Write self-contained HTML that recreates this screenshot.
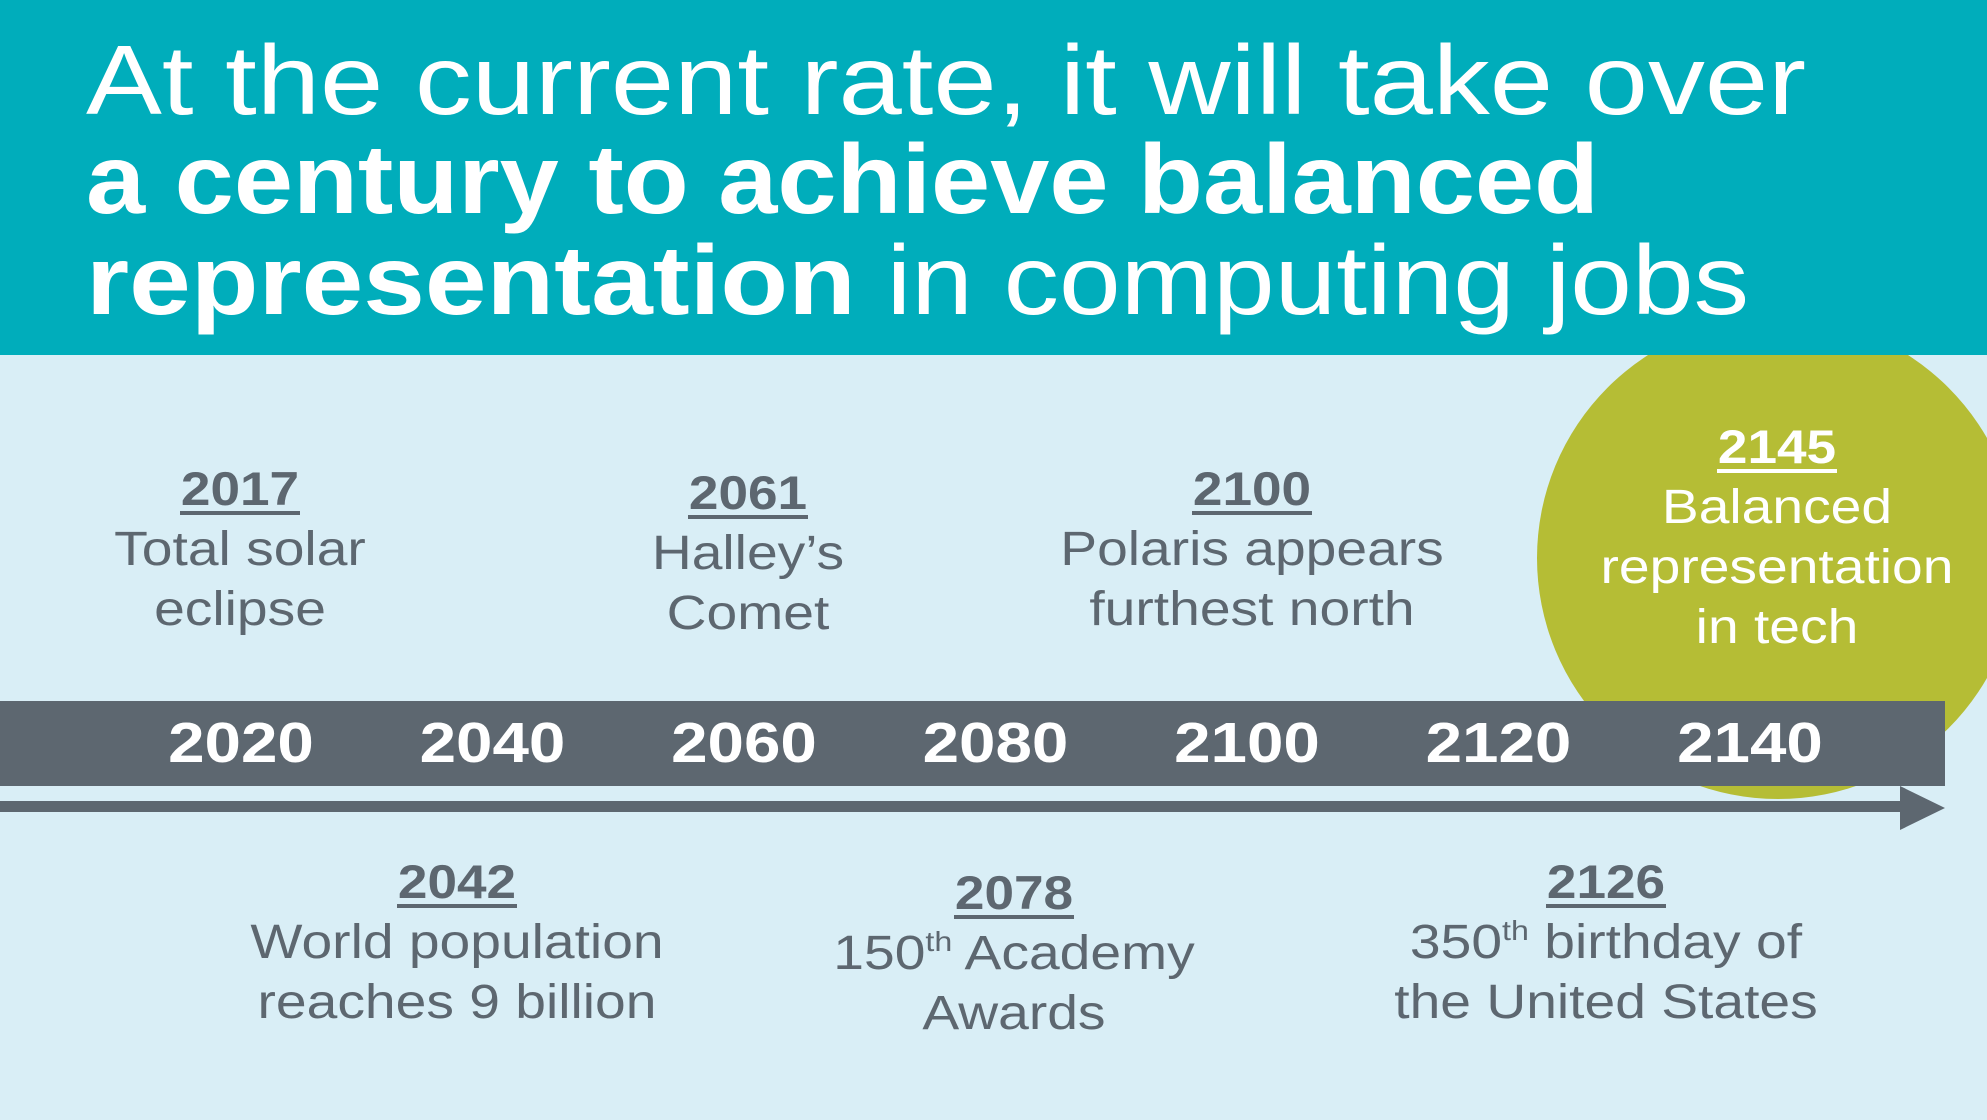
<!DOCTYPE html>
<html><head><meta charset="utf-8"><style>
html,body{margin:0;padding:0;width:1987px;height:1120px;overflow:hidden;background:#d9eef6}
svg{display:block;font-family:"Liberation Sans",sans-serif}
</style></head><body>
<svg id="chart" width="1987" height="1120" viewBox="0 0 1987 1120">
<rect x="0" y="0" width="1987" height="1120" fill="#d9eef6"/>
<circle cx="1778" cy="558" r="241" fill="#b5bd35"/>
<rect x="0" y="0" width="1987" height="355" fill="#00adbb"/>
<g fill="#ffffff" font-size="98">
<text x="86" y="114" textLength="1720" lengthAdjust="spacingAndGlyphs">At the current rate, it will take over</text>
<text x="86" y="213" font-weight="bold" textLength="1513" lengthAdjust="spacingAndGlyphs">a century to achieve balanced</text>
<text x="86" y="314" textLength="1663" lengthAdjust="spacingAndGlyphs"><tspan font-weight="bold">representation</tspan> in computing jobs</text>
</g>
<rect x="0" y="701" width="1945" height="85" fill="#5d6770"/>
<rect x="0" y="801" width="1905" height="11" fill="#5d6770"/>
<polygon points="1900,786 1945,808 1900,830" fill="#5d6770"/>
<g id="ticks"></g>
<g id="events"></g>
</svg>
<script>
const tickYears = [2020, 2040, 2060, 2080, 2100, 2120, 2140];
const eventYears = ["2017", "2061", "2100", "2145", "2042", "2078", "2126"];
const eventLines = [
  ["Total solar", "eclipse"],
  ["Halley\u2019s", "Comet"],
  ["Polaris appears", "furthest north"],
  ["Balanced", "representation", "in tech"],
  ["World population", "reaches 9 billion"],
  ["150|th| Academy", "Awards"],
  ["350|th| birthday of", "the United States"]
];
const NS = "http://www.w3.org/2000/svg";
function xScale(y){ return 241 + (y - 2020) * (1750 - 241) / 120; }
function widen(el, f){
  const w = el.getComputedTextLength();
  el.setAttribute('textLength', (w * f).toFixed(1));
  el.setAttribute('lengthAdjust', 'spacingAndGlyphs');
}
const tg = document.getElementById('ticks');
tickYears.forEach(y => {
  const t = document.createElementNS(NS, 'text');
  
  
  t.setAttribute('x', xScale(y)); t.setAttribute('y', 762);
  t.setAttribute('text-anchor', 'middle'); t.setAttribute('font-size', '57');
  t.setAttribute('font-weight', 'bold'); t.setAttribute('fill', '#ffffff');
  t.textContent = y; tg.appendChild(t);
  widen(t, 1.15);
});
const layout = [
  [240, 505, 60], [748, 509, 60], [1252, 505, 60], [1777, 463, 60],
  [457, 898, 60], [1014, 909, 60], [1606, 898, 60]
];
const eg = document.getElementById('events');
eventYears.forEach((yr, i) => {
  const [cx, by, ls] = layout[i];
  const col = i === 3 ? '#ffffff' : '#5d6770';
  const g = document.createElementNS(NS, 'g');
  
  
  eg.appendChild(g);
  const t = document.createElementNS(NS, 'text');
  
  
  t.setAttribute('x', cx); t.setAttribute('y', by);
  t.setAttribute('text-anchor', 'middle'); t.setAttribute('font-size', '47');
  t.setAttribute('font-weight', 'bold'); t.setAttribute('fill', col);
  t.textContent = yr; g.appendChild(t);
  widen(t, 1.13);
  const u = document.createElementNS(NS, 'rect');
  
  
  u.setAttribute('x', cx - 60); u.setAttribute('y', by + 6);
  u.setAttribute('width', 120); u.setAttribute('height', 4); u.setAttribute('fill', col);
  g.appendChild(u);
  eventLines[i].forEach((ln, j) => {
    const d = document.createElementNS(NS, 'text');
    
    
    d.setAttribute('x', cx); d.setAttribute('y', by + ls * (j + 1));
    d.setAttribute('text-anchor', 'middle'); d.setAttribute('font-size', '48');
    d.setAttribute('fill', col);
    const parts = ln.split('|');
    parts.forEach((p, k) => {
      const s = document.createElementNS(NS, 'tspan');
      if (k === 1) { s.setAttribute('font-size', '28'); s.setAttribute('dy', '-18'); }
      if (k === 2) { s.setAttribute('dy', '18'); }
      s.textContent = p; d.appendChild(s);
    });
    g.appendChild(d);
    widen(d, 1.15);
  });
});
</script>
</body></html>
